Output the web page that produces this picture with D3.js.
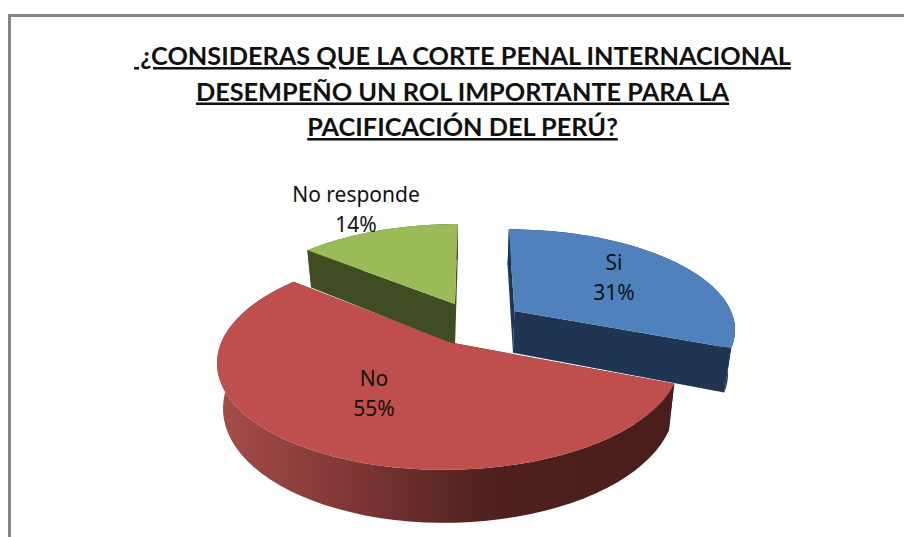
<!DOCTYPE html>
<html>
<head>
<meta charset="utf-8">
<script src="https://cdn.jsdelivr.net/npm/d3@7"></script>
<style>
html, body { margin: 0; padding: 0; background: #fff; }
svg { display: block; }
</style>
</head>
<body>
<script>
var categories = ["Si", "No", "No responde"];
var percents = [31, 55, 14];
var topColors = ["#4f81bd", "#be4f4c", "#9bbb59"];
var wallColors = ["#1f3552", "#4f201d", "#404c22"];
var titleLines = [
    "\u00a0¿CONSIDERAS QUE LA CORTE PENAL INTERNACIONAL",
    "DESEMPEÑO UN ROL IMPORTANTE PARA LA",
    "PACIFICACIÓN DEL PERÚ?"
];

var w = 904, h = 537;

var svg = d3.select("body")
            .append("svg")
            .attr("width", w)
            .attr("height", h);

// chart frame, only top and left show in the crop
svg.append("path")
    .attr("d", "M9.5,537V15.5H904")
    .attr("fill", "none")
    .attr("stroke", "#868686")
    .attr("stroke-width", 3);

svg.append("g")
    .selectAll("text")
    .data(titleLines)
    .enter()
    .append("text")
    .attr("x", 462.5)
    .attr("y", (d, i) => 65 + i * 35.5)
    .attr("text-anchor", "middle")
    .attr("font-family", "Lato")
    .attr("font-weight", "bold")
    .attr("font-size", 25.3)
    .attr("fill", "#111")
    .attr("text-decoration", "underline")
    .text(d => d);

// pie tilted with a bit of perspective, u to the right and v to the viewer
var cx = 475, cy = 323, radiusX = 221, radiusY = 99, persp = 0.1667;
var depth = 42.5, shrink = 0.975, explode = 0.22, vanishX = 457;

var project = function(u, v, down) {
    var s = 1 / (1 - persp * v);
    var x = cx + radiusX * u * s;
    var y = cy + radiusY * v * s;
    if(down) {
        return [vanishX + (x - vanishX) * shrink, y + depth * s];
    }
    return [x, y];
};

var pie = d3.pie().sort(null).value(d => d);
var slices = pie(percents);

var line = d3.line().curve(d3.curveLinear);

var rimGradient = svg.append("defs")
                    .append("linearGradient")
                    .attr("id", "redRim")
                    .attr("gradientUnits", "userSpaceOnUse")
                    .attr("x1", 220).attr("x2", 660)
                    .attr("y1", 0).attr("y2", 0);

[[0, "#a54c48"], [0.3, "#7f3735"], [0.6, "#50211e"], [1, "#4a1d1b"]].forEach(function(s) {
    rimGradient.append("stop")
        .attr("offset", s[0])
        .attr("stop-color", s[1]);
});

var arcPoints = function(d, u0, v0, down) {
    return d3.range(0, 61).map(function(i) {
        var a = d.startAngle + (d.endAngle - d.startAngle) * i / 60;
        return project(u0 + Math.sin(a), v0 - Math.cos(a), down);
    });
};

// back to front, so red covers the others
[2, 0, 1].forEach(function(k) {
    var d = slices[k];
    var mid = (d.startAngle + d.endAngle) / 2;
    var u0 = explode * Math.sin(mid);
    var v0 = -explode * Math.cos(mid);
    var wall = k === 1 ? "url(#redRim)" : wallColors[k];

    [d.startAngle, d.endAngle].forEach(function(a) {
        var edge = [
            project(u0, v0, false),
            project(u0 + Math.sin(a), v0 - Math.cos(a), false),
            project(u0 + Math.sin(a), v0 - Math.cos(a), true),
            project(u0, v0, true)
        ];
        svg.append("path")
            .attr("d", line(edge) + "Z")
            .attr("fill", wallColors[k]);
    });

    var rim = arcPoints(d, u0, v0, false).concat(arcPoints(d, u0, v0, true).reverse());
    svg.append("path")
        .attr("d", line(rim) + "Z")
        .attr("fill", wall);

    var face = [project(u0, v0, false)].concat(arcPoints(d, u0, v0, false));
    svg.append("path")
        .attr("d", line(face) + "Z")
        .attr("fill", topColors[k]);
});

// labels sit by hand like the office chart does
var labelX = [614, 374, 356];
var labelY = [270, 386, 202];

var labels = svg.append("g")
    .selectAll("text")
    .data(categories)
    .enter()
    .append("text")
    .attr("text-anchor", "middle")
    .attr("font-family", "Noto Sans")
    .attr("font-size", 21)
    .attr("fill", "#111");

labels.append("tspan")
    .attr("x", (d, i) => labelX[i])
    .attr("y", (d, i) => labelY[i])
    .text(d => d);

labels.append("tspan")
    .attr("x", (d, i) => labelX[i])
    .attr("y", (d, i) => labelY[i] + 30)
    .text((d, i) => percents[i] + "%");
</script>
</body>
</html>
